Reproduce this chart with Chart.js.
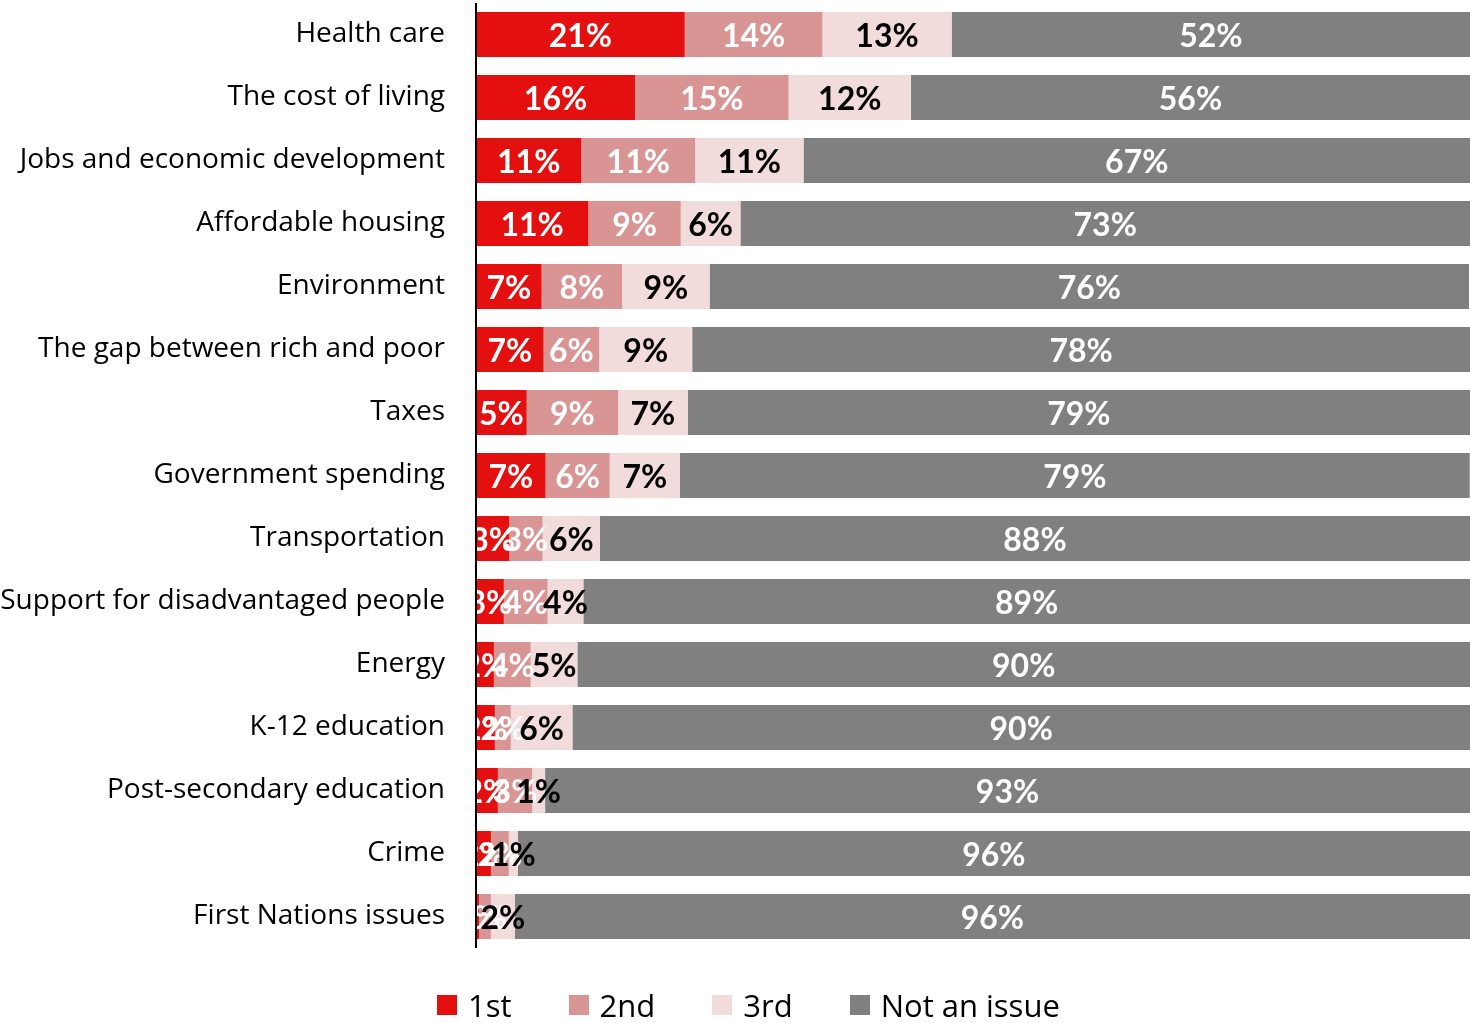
<!DOCTYPE html>
<html>
<head>
<meta charset="utf-8">
<script src="https://cdn.jsdelivr.net/npm/chart.js@4.4.1/dist/chart.umd.min.js"></script>
<style>
  html, body { margin: 0; padding: 0; background: #fff; }
  #wrap { width: 1470px; height: 1023px; position: relative; }
  #legend {
    position: absolute; left: 437px; top: 985px;
    display: flex; align-items: center;
    font-family: "Open Sans", sans-serif; font-size: 31px; color: #000;
    line-height: 40px;
  }
  #legend .item { display: flex; align-items: center; margin-right: 57px; }
  #legend .box { width: 20px; height: 20px; margin-right: 11px; }
</style>
</head>
<body>
<div id="wrap">
  <canvas id="issueChart"></canvas>
  <div id="legend"></div>
</div>
<script>
// categories, top to bottom
const issues = [
    'Health care', 'The cost of living', 'Jobs and economic development',
    'Affordable housing', 'Environment', 'The gap between rich and poor',
    'Taxes', 'Government spending', 'Transportation',
    'Support for disadvantaged people', 'Energy', 'K-12 education',
    'Post-secondary education', 'Crime', 'First Nations issues'
];

// share of respondents (%)
const first  = [21.0, 16.0, 10.6, 11.3, 6.6, 6.8, 5.1, 7.0, 3.35, 2.8, 1.8, 1.9, 2.2, 1.5, 0.3];
const second = [13.85, 15.45, 11.45, 9.3, 8.1, 5.6, 9.2, 6.45, 3.35, 4.4, 3.7, 1.6, 3.45, 1.8, 1.2];
const third  = [13.0, 12.3, 10.9, 6.0, 8.8, 9.35, 7.0, 7.07, 5.77, 3.6, 4.7, 6.2, 1.3, 0.9, 2.4];
const notIssue = [52.15, 56.25, 67.05, 73.4, 76.4, 78.25, 78.7, 79.45, 87.53, 89.2, 89.8, 90.3, 93.05, 95.8, 96.1];

const seriesNames = ['1st', '2nd', '3rd', 'Not an issue'];
const seriesColors = ['#E3100F', '#D99594', '#F2DCDB', '#808080'];
const labelColors = ['#fff', '#fff', '#000', '#fff'];

// segment labels, centred, clipped to the plot area like the original
const segmentLabels = {
    id: 'segmentLabels',
    afterDatasetsDraw(chart) {
        const ctx = chart.ctx;
        const area = chart.chartArea;
        ctx.save();
        ctx.beginPath();
        ctx.rect(area.left, area.top, area.right - area.left, area.bottom - area.top);
        ctx.clip();
        ctx.font = 'bold 32px Lato, "Open Sans", sans-serif';
        ctx.textAlign = 'center';
        ctx.textBaseline = 'middle';
        chart.data.datasets.forEach(function(ds, i) {
            const meta = chart.getDatasetMeta(i);
            ctx.fillStyle = labelColors[i];
            meta.data.forEach(function(bar, j) {
                const cx = (bar.x + bar.base) / 2;
                ctx.fillText(Math.round(ds.data[j]) + '%', cx, bar.y + 2);
            });
        });
        ctx.restore();

        // axis line on top
        ctx.save();
        ctx.strokeStyle = '#000';
        ctx.lineWidth = 2;
        ctx.beginPath();
        ctx.moveTo(area.left, area.top);
        ctx.lineTo(area.left, area.bottom);
        ctx.stroke();
        ctx.restore();
    }
};

const values = [first, second, third, notIssue];

new Chart(document.getElementById('issueChart'), {
    type: 'bar',
    data: {
        labels: issues,
        datasets: values.map(function(v, i) {
            return { label: seriesNames[i], data: v, backgroundColor: seriesColors[i] };
        })
    },
    options: {
        indexAxis: 'y',
        responsive: true,
        maintainAspectRatio: false,
        animation: false,
        datasets: {
            bar: { barPercentage: 1, categoryPercentage: 0.715, borderWidth: 0 }
        },
        layout: { padding: { top: 3, right: 0, left: 0, bottom: 75 } },
        scales: {
            x: {
                stacked: true,
                display: false,
                min: 0,
                max: 100
            },
            y: {
                stacked: true,
                grid: { display: false, drawTicks: false },
                border: { display: false },
                ticks: {
                    color: '#000',
                    padding: 31,
                    font: { family: '"Open Sans", sans-serif', size: 28 }
                },
                afterFit(scale) {
                    scale.width = 476;
                    scale.paddingTop = 0;
                    scale.paddingBottom = 0;
                }
            }
        },
        plugins: {
            legend: { display: false },
            tooltip: { enabled: false }
        }
    },
    plugins: [segmentLabels]
});

// legend, drawn as html under the plot
const legendEl = document.getElementById('legend');
seriesNames.forEach(function(name, i) {
    const item = document.createElement('div');
    item.className = 'item';
    const box = document.createElement('span');
    box.className = 'box';
    box.style.background = seriesColors[i];
    const text = document.createElement('span');
    text.textContent = name;
    item.appendChild(box);
    item.appendChild(text);
    legendEl.appendChild(item);
});
</script>
</body>
</html>
